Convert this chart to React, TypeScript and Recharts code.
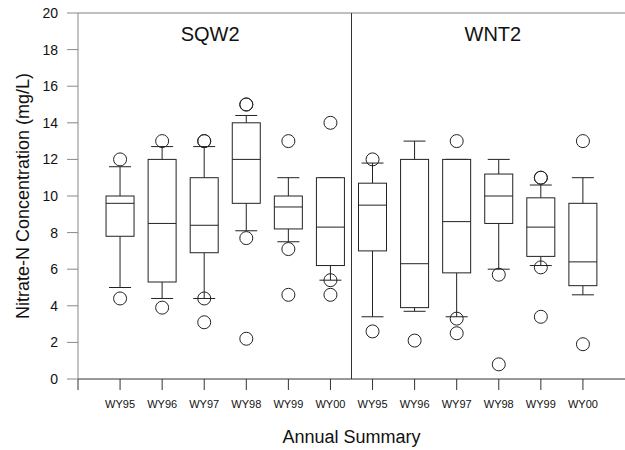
import { Bar, ComposedChart, ReferenceDot, ReferenceLine, Scatter, XAxis, YAxis } from "recharts";

const years = ["WY95", "WY96", "WY97", "WY98", "WY99", "WY00"];
const sites = ["SQW2", "WNT2"];
const yTicks = [0, 2, 4, 6, 8, 10, 12, 14, 16, 18, 20];

// [lower whisker, Q1, median, Q3, upper whisker]
const sqw2Boxes = [
  [5.0, 7.8, 9.6, 10.0, 11.6],
  [4.4, 5.3, 8.5, 12.0, 12.7],
  [4.4, 6.9, 8.4, 11.0, 12.7],
  [8.1, 9.6, 12.0, 14.0, 14.4],
  [7.5, 8.2, 9.4, 10.0, 11.0],
  [5.4, 6.2, 8.3, 11.0, 11.0],
];
const wnt2Boxes = [
  [3.4, 7.0, 9.5, 10.7, 11.8],
  [3.7, 3.9, 6.3, 12.0, 13.0],
  [3.4, 5.8, 8.6, 12.0, 12.0],
  [6.0, 8.5, 10.0, 11.2, 12.0],
  [6.2, 6.7, 8.3, 9.9, 10.6],
  [4.6, 5.1, 6.4, 9.6, 11.0],
];

const sqw2Outliers = [
  [12.0, 4.4],
  [13.0, 3.9],
  [13.0, 13.0, 4.4, 3.1],
  [15.0, 15.0, 7.7, 2.2],
  [13.0, 7.1, 4.6],
  [14.0, 5.4, 4.6],
];
const wnt2Outliers = [
  [12.0, 2.6],
  [2.1],
  [13.0, 3.3, 2.5],
  [5.7, 0.8],
  [11.0, 11.0, 6.1, 3.4],
  [13.0, 1.9],
];

const allBoxes = [...sqw2Boxes, ...wnt2Boxes];
const allOutliers = [...sqw2Outliers, ...wnt2Outliers];
const tickLabels = [...years, ...years];

const boxData = allBoxes.map(([lo, q1, med, q3, hi], i) => ({ x: i + 1, lo, q1, med, q3, hi }));
const outlierData = allOutliers.flatMap((vals, i) => vals.map((v) => ({ x: i + 1, y: v })));

const font = "'Liberation Sans', Arial, sans-serif";
const ink = "#222";

const BoxShape = (props: any) => {
  const { x, y, width, height, payload } = props;
  const top = Math.min(y, y + height);
  const bot = Math.max(y, y + height);
  const span = payload.hi - payload.lo || 1;
  const py = (v: number) => bot - ((v - payload.lo) / span) * (bot - top);
  const cx = x + width / 2;
  const cap = 11;
  return (
    <g stroke={ink} strokeWidth={1} fill="none">
      <line x1={cx} x2={cx} y1={py(payload.hi)} y2={py(payload.q3)} />
      <line x1={cx} x2={cx} y1={py(payload.q1)} y2={py(payload.lo)} />
      <line x1={cx - cap} x2={cx + cap} y1={py(payload.hi)} y2={py(payload.hi)} />
      <line x1={cx - cap} x2={cx + cap} y1={py(payload.lo)} y2={py(payload.lo)} />
      <rect x={x} y={py(payload.q3)} width={width} height={py(payload.q1) - py(payload.q3)} fill="#fff" />
      <line x1={x} x2={x + width} y1={py(payload.med)} y2={py(payload.med)} />
    </g>
  );
};

const Outlier = (props: any) => (
  <circle cx={props.cx} cy={props.cy} r={6.5} fill="none" stroke={ink} strokeWidth={1} />
);

export default function App() {
  return (
    <div style={{ position: "absolute", left: 0, top: 0, background: "#fff" }}>
      <ComposedChart
        width={625}
        height={450}
        data={boxData}
        margin={{ top: 13, right: 0, bottom: 0, left: 10 }}
        style={{ fontFamily: font }}
      >
        <XAxis
          type="number"
          dataKey="x"
          domain={[0, 13]}
          ticks={[0, 1, 2, 3, 4, 5, 6, 7, 8, 9, 10, 11, 12]}
          tickFormatter={(v: number) => tickLabels[v - 1] ?? ""}
          height={71}
          stroke="#333"
          tickSize={11}
          tickMargin={10}
          tick={{ fontSize: 11, fill: "#111", fontFamily: font }}
          label={{ value: "Annual Summary", position: "insideBottom", offset: 7, fontSize: 18, fill: "#111", fontFamily: font }}
        />
        <YAxis
          type="number"
          domain={[0, 20]}
          ticks={yTicks}
          width={68}
          stroke="#888"
          tickSize={11}
          tickMargin={9}
          tick={{ fontSize: 14, fill: "#111", fontFamily: font }}
          label={{
            value: "Nitrate-N Concentration (mg/L)",
            angle: -90,
            position: "insideLeft",
            offset: 13,
            fontSize: 18,
            fill: "#111",
            fontFamily: font,
            style: { textAnchor: "middle" },
          }}
        />
        <ReferenceLine y={20} stroke="#aaa" strokeWidth={1.5} />
        <ReferenceLine x={6.5} stroke="#333" />
        <Bar
          dataKey={(d: any) => [d.lo, d.hi]}
          barSize={28}
          shape={BoxShape}
          isAnimationActive={false}
        />
        <Scatter data={outlierData} dataKey="y" shape={Outlier} isAnimationActive={false} />
        <ReferenceDot
          x={3.14}
          y={18.85}
          r={0}
          stroke="none"
          label={{ value: sites[0], position: "center", fontSize: 20, fill: "#111", fontFamily: font }}
        />
        <ReferenceDot
          x={9.86}
          y={18.85}
          r={0}
          stroke="none"
          label={{ value: sites[1], position: "center", fontSize: 20, fill: "#111", fontFamily: font }}
        />
      </ComposedChart>
    </div>
  );
}
